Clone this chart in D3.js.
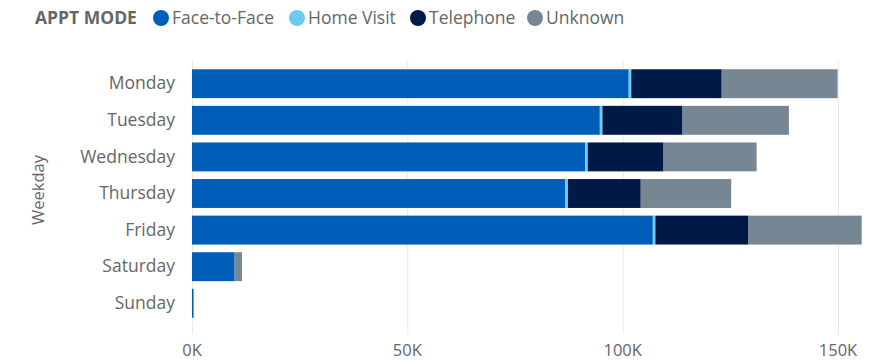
<!DOCTYPE html>
<html><head><meta charset="utf-8">
<script src="https://cdn.jsdelivr.net/npm/d3@7"></script>
<style>
html,body{margin:0;padding:0;background:#fff;}
svg{display:block;font-family:"Segoe UI","Open Sans","Noto Sans",sans-serif;}
</style></head>
<body><svg id="c" width="874" height="361"></svg>
<script>
const categories = ["Monday","Tuesday","Wednesday","Thursday","Friday","Saturday","Sunday"];
const seriesNames = ["Face-to-Face","Home Visit","Telephone","Unknown"];
const faceToFace = [101400, 94700, 91300, 86700, 107000, 9800, 350];
const homeVisit  = [600, 600, 600, 600, 600, 100, 0];
const telephone  = [21000, 18600, 17600, 16900, 21500, 200, 0];
const unknown    = [26900, 24700, 21600, 21000, 26400, 1500, 50];
const xTicks = [0, 50000, 100000, 150000];
const colors = ["#005EB8","#6CC9EF","#001A47","#768692"];

const svg = d3.select("#c");
const rows = categories.map((c,i)=>({day:c,"Face-to-Face":faceToFace[i],"Home Visit":homeVisit[i],"Telephone":telephone[i],"Unknown":unknown[i]}));
const stacked = d3.stack().keys(seriesNames)(rows);

const x = d3.scaleLinear().domain([0,150000]).range([192,838]);
const y = d3.scaleBand().domain(categories).range([65.6,321.4]).paddingInner(0.21).paddingOuter(0.1);
const color = d3.scaleOrdinal().domain(seriesNames).range(colors);

// gridlines
svg.append("g").selectAll("line").data(xTicks).join("line")
  .attr("x1",d=>x(d)+0.5).attr("x2",d=>x(d)+0.5).attr("y1",60).attr("y2",334)
  .attr("stroke","#e9e9e9").attr("stroke-width",1);

// bars
svg.append("g").selectAll("g").data(stacked).join("g").attr("fill",d=>color(d.key))
  .selectAll("rect").data(d=>d).join("rect")
  .attr("x",d=>x(d[0])).attr("width",d=>Math.max(0,x(d[1])-x(d[0])))
  .attr("y",d=>y(d.data.day)).attr("height",y.bandwidth());

// x axis
const xa = svg.append("g").attr("transform","translate(0,356)");
xa.selectAll("text").data(xTicks).join("text")
  .attr("x",d=>x(d)).attr("y",0).attr("text-anchor","middle")
  .attr("font-size",16.5).attr("fill","#666666")
  .text(d=>d3.format("d")(d/1000)+"K");

// y axis
const ya = d3.axisLeft(y).tickSize(0).tickPadding(17);
const yg = svg.append("g").attr("transform","translate(192,0)").call(ya);
yg.select(".domain").remove();
yg.attr("font-family",null).attr("font-size",null);
yg.selectAll("text").attr("font-size",17.5).attr("fill","#666666");

// y title
svg.append("text").attr("transform","translate(44,190) rotate(-90)")
  .attr("text-anchor","middle").attr("font-size",16.5).attr("fill","#666666").text("Weekday");

// legend
const lg = svg.append("g");
lg.append("text").attr("x",35).attr("y",24).attr("font-size",17.5).attr("font-weight","bold")
  .attr("fill","#666666").text("APPT MODE");
const legX = [161, 297, 418, 535];
seriesNames.forEach((s,i)=>{
  lg.append("circle").attr("cx",legX[i]).attr("cy",18).attr("r",8).attr("fill",colors[i]);
  lg.append("text").attr("x",legX[i]+11).attr("y",24).attr("font-size",17.5).attr("fill","#666666").text(s);
});
</script></body></html>
